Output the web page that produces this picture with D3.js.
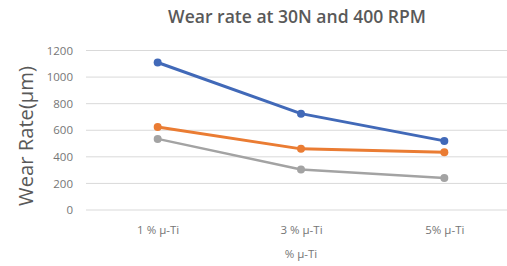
<!DOCTYPE html>
<html>
<head>
<meta charset="utf-8">
<script src="https://cdn.jsdelivr.net/npm/d3@7"></script>
<style>
  body { margin: 0; background: #fff; }
</style>
</head>
<body>
<div id="chart"></div>
<script>
// Data
const categories = ["1 % \u00b5-Ti", "3 % \u00b5-Ti", "5% \u00b5-Ti"];
const seriesA = [1110, 725, 520];
const seriesB = [625, 460, 435];
const seriesC = [535, 305, 240];
const yTicks = [0, 200, 400, 600, 800, 1000, 1200];

const W = 507, H = 266;
const margin = { top: 50.5, right: -9, bottom: 56, left: 86 };
const font = "'Open Sans', 'Noto Sans', sans-serif";

const svg = d3.select("#chart").append("svg")
    .attr("width", W)
    .attr("height", H)
    .attr("font-family", font);

const x = d3.scalePoint()
    .domain(categories)
    .range([margin.left, W - margin.right])
    .padding(0.5);

const y = d3.scaleLinear()
    .domain([0, 1200])
    .range([H - margin.bottom, margin.top]);

// Gridlines
svg.append("g")
    .selectAll("line")
    .data(yTicks)
    .enter()
    .append("line")
    .attr("x1", margin.left)
    .attr("x2", W)
    .attr("y1", d => y(d))
    .attr("y2", d => y(d))
    .attr("stroke", "#d9d9d9")
    .attr("stroke-width", 1);

// Y tick labels
const yAxis = svg.append("g")
    .attr("transform", "translate(" + (margin.left - 13) + ",0)")
    .call(d3.axisLeft(y).tickValues(yTicks).tickFormat(d3.format("d")).tickSize(0).tickPadding(0));
yAxis.select(".domain").remove();
yAxis.selectAll("text")
    .attr("font-family", font)
    .attr("font-size", "11.5px")
    .attr("fill", "#767676");

// X tick labels
const xAxis = svg.append("g")
    .attr("transform", "translate(0," + (H - margin.bottom) + ")")
    .call(d3.axisBottom(x).tickSize(0).tickPadding(16));
xAxis.select(".domain").remove();
xAxis.selectAll("text")
    .attr("font-family", font)
    .attr("font-size", "11.5px")
    .attr("fill", "#767676");

// Fit a text to a width
function fitWidth(sel, target) {
    const len = sel.node().getComputedTextLength();
    const fs = parseFloat(sel.attr("font-size"));
    sel.attr("font-size", (fs * target / len).toFixed(2) + "px");
}

// Titles
const title = svg.append("text")
    .attr("x", 297)
    .attr("y", 23)
    .attr("text-anchor", "middle")
    .attr("font-size", "15px")
    .attr("font-weight", 600)
    .attr("fill", "#595959")
    .text("Wear rate at 30N and 400 RPM");
fitWidth(title, 258);

const yTitle = svg.append("text")
    .attr("transform", "translate(33,136) rotate(-90)")
    .attr("text-anchor", "middle")
    .attr("font-size", "17px")
    .attr("fill", "#595959")
    .text("Wear Rate(\u00b5m)");
fitWidth(yTitle, 140);

svg.append("text")
    .attr("x", 301)
    .attr("y", 258)
    .attr("text-anchor", "middle")
    .attr("font-size", "11.5px")
    .attr("fill", "#767676")
    .text("% \u00b5-Ti");

// Lines and markers
const series = [
    { values: seriesC, color: "#a3a3a3", w: 2.5 },
    { values: seriesB, color: "#ea7c33", w: 3 },
    { values: seriesA, color: "#4169b8", w: 3 },
];

const line = d3.line()
    .x((d, i) => x(categories[i]))
    .y(d => y(d));

series.forEach(s => {
    svg.append("path")
        .datum(s.values)
        .attr("fill", "none")
        .attr("stroke", s.color)
        .attr("stroke-width", s.w)
        .attr("stroke-linejoin", "round")
        .attr("d", line);

    svg.append("g")
        .selectAll("circle")
        .data(s.values)
        .enter()
        .append("circle")
        .attr("cx", (d, i) => x(categories[i]))
        .attr("cy", d => y(d))
        .attr("r", 4)
        .attr("fill", s.color);
});
</script>
</body>
</html>
